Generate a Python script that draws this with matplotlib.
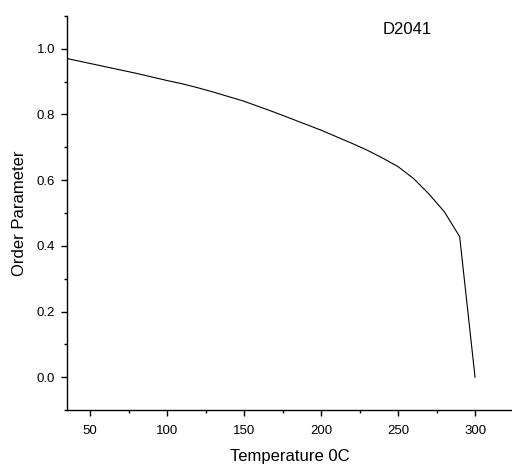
import matplotlib
matplotlib.use("Agg")
import matplotlib.pyplot as plt
from matplotlib.ticker import MultipleLocator

plt.rcParams['font.family'] = ['Liberation Sans', 'DejaVu Sans']

# data
temperature = [30, 40, 50, 60, 70, 80, 90, 100, 110, 120, 130, 140, 150,
               160, 170, 180, 190, 200, 210, 220, 230, 240, 250, 260, 270,
               280, 290, 300]
order_param = [0.975, 0.965, 0.955, 0.945, 0.935, 0.925, 0.914, 0.903,
               0.893, 0.881, 0.868, 0.854, 0.840, 0.823, 0.806, 0.788,
               0.770, 0.752, 0.732, 0.712, 0.691, 0.667, 0.641, 0.605,
               0.558, 0.504, 0.428, 0.0]
sample_name = "D2041"

fig = plt.figure(figsize=(5.12, 4.66), dpi=100)
ax = fig.add_axes([0.131, 0.120, 0.869, 0.846])

ax.plot(temperature, order_param, color='black', linewidth=0.8)

ax.set_xlim(35, 324)
ax.set_ylim(-0.1, 1.1)
ax.xaxis.set_major_locator(MultipleLocator(50))
ax.xaxis.set_minor_locator(MultipleLocator(25))
ax.yaxis.set_major_locator(MultipleLocator(0.2))
ax.yaxis.set_minor_locator(MultipleLocator(0.1))
ax.yaxis.set_major_formatter(plt.FormatStrFormatter('%.1f'))

for side in ['top', 'right']:
    ax.spines[side].set_visible(False)
for side in ['left', 'bottom']:
    ax.spines[side].set_linewidth(1.0)

ax.tick_params(which='major', direction='out', length=4.5, width=1.0,
               labelsize=9.5, pad=4)
ax.tick_params(axis='x', which='major', pad=6)
ax.tick_params(which='minor', direction='out', length=2.5, width=1.0)

ax.set_xlabel('Temperature 0C', fontsize=12, labelpad=9)
ax.set_ylabel('Order Parameter', fontsize=12, labelpad=7)

ax.text(255.6, 1.059, sample_name, fontsize=12, ha='center', va='center')

fig.savefig('out.png', dpi=100)
